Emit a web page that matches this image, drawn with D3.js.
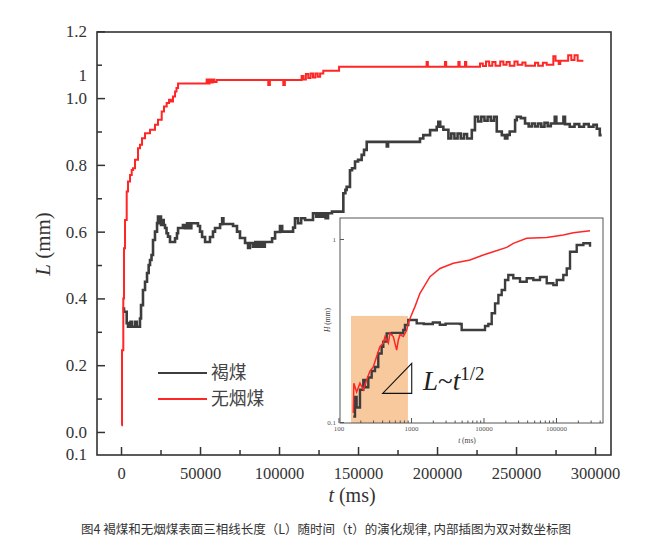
<!DOCTYPE html>
<html><head><meta charset="utf-8">
<script src="https://cdn.jsdelivr.net/npm/d3@7"></script>
<style>body{margin:0;background:#fff;} svg{display:block;}</style>
</head><body><svg id="c" width="645" height="542"></svg>
<script>
// ---------------- DATA ----------------
const seriesNames = ["褐煤", "无烟煤"];
const seriesColors = ["#3d3d3d", "#ff2626"];

// main chart: t (ms), L (mm) — 褐煤 (lignite)
const ligniteMain = [[950,0.37],[1900,0.36],[3600,0.326],[4430,0.315],[6000,0.33],[7000,0.315],[9000,0.33],[10000,0.315],[12000,0.34],[12660,0.38],[13900,0.425],[15200,0.45],[16460,0.476],[17500,0.5],[18350,0.515],[19300,0.53],[20250,0.575],[21500,0.60],[22800,0.626],[23400,0.645],[24000,0.625],[24700,0.645],[25300,0.62],[25900,0.635],[27000,0.62],[27850,0.611],[28800,0.595],[29750,0.585],[31000,0.569],[34200,0.58],[35400,0.595],[36100,0.611],[39200,0.62],[40500,0.61],[41800,0.625],[43000,0.61],[44500,0.625],[48700,0.617],[50000,0.60],[51300,0.584],[53200,0.569],[56300,0.584],[58200,0.60],[59500,0.611],[62700,0.622],[64000,0.64],[64800,0.623],[70900,0.617],[73400,0.60],[75300,0.581],[78500,0.566],[80400,0.551],[81600,0.566],[83500,0.555],[85000,0.569],[86500,0.555],[88000,0.569],[89500,0.555],[91000,0.569],[95600,0.58],[97500,0.599],[100600,0.617],[102000,0.60],[108900,0.612],[110100,0.64],[112000,0.625],[114000,0.64],[116500,0.635],[121500,0.655],[123500,0.645],[125000,0.655],[126500,0.645],[128000,0.655],[129500,0.64],[131000,0.655],[133500,0.66],[140700,0.715],[142000,0.725],[142800,0.734],[144900,0.784],[146200,0.79],[148100,0.81],[150000,0.815],[152300,0.83],[153800,0.845],[155500,0.869],[168200,0.855],[169000,0.869],[189200,0.879],[191300,0.889],[195600,0.904],[199800,0.914],[200800,0.929],[202000,0.914],[204000,0.905],[207200,0.879],[209000,0.894],[211000,0.879],[213000,0.894],[215000,0.879],[217000,0.892],[219000,0.879],[222000,0.904],[224000,0.944],[226000,0.93],[228000,0.944],[230000,0.932],[232000,0.944],[234000,0.932],[236000,0.944],[237800,0.90],[241000,0.889],[243000,0.879],[244500,0.89],[246000,0.90],[249400,0.934],[250500,0.944],[253000,0.94],[255700,0.924],[258000,0.915],[260000,0.924],[262000,0.915],[264000,0.924],[266000,0.914],[268000,0.926],[270000,0.916],[272000,0.924],[274500,0.944],[275500,0.924],[280000,0.944],[281000,0.922],[284000,0.914],[287000,0.922],[290000,0.914],[293000,0.922],[296000,0.914],[299000,0.92],[301100,0.908],[303000,0.889],[304200,0.889]];

// main chart: 无烟煤 (anthracite)
const anthraciteMain = [[300,0.02],[630,0.245],[1450,0.40],[1900,0.55],[2530,0.635],[3600,0.72],[4430,0.75],[5700,0.77],[6770,0.785],[7600,0.79],[8860,0.815],[10760,0.85],[12000,0.86],[13300,0.88],[15200,0.895],[18350,0.905],[21500,0.92],[23400,0.935],[25760,0.96],[27200,0.975],[28900,0.985],[30400,0.995],[31600,0.99],[32900,1.005],[34200,1.02],[35100,1.03],[36100,1.044],[54200,1.056],[55000,1.044],[56000,1.056],[57000,1.047],[58000,1.056],[59000,1.048],[60500,1.054],[93200,1.039],[94200,1.054],[102700,1.039],[103700,1.054],[114300,1.066],[115500,1.056],[117000,1.072],[118500,1.06],[120000,1.074],[121500,1.062],[123000,1.074],[124500,1.064],[126000,1.074],[128000,1.082],[138000,1.094],[193400,1.108],[194200,1.094],[205000,1.108],[205800,1.094],[213500,1.108],[214300,1.094],[217700,1.108],[218500,1.094],[227200,1.104],[229000,1.096],[231000,1.11],[233000,1.097],[235000,1.108],[237000,1.097],[240000,1.11],[242000,1.1],[244000,1.108],[246000,1.097],[249000,1.11],[251000,1.1],[254000,1.107],[256000,1.097],[262000,1.106],[264000,1.097],[267000,1.106],[269400,1.1],[273600,1.125],[275000,1.112],[277000,1.102],[278000,1.112],[283000,1.128],[285000,1.114],[287000,1.128],[289000,1.112],[290500,1.112],[292600,1.112]];

// inset (log-log): t (ms), H (mm)
const ligniteInset = [[160,0.107],[169,0.137],[178,0.12],[198,0.15],[220,0.17],[232,0.155],[258,0.175],[287,0.19],[319,0.2],[354,0.237],[394,0.258],[415,0.275],[462,0.305],[542,0.307],[745,0.305],[783,0.318],[826,0.339],[918,0.361],[1077,0.361],[1199,0.346],[1500,0.343],[2000,0.35],[2500,0.34],[3000,0.345],[4742,0.343],[5000,0.318],[9940,0.318],[10490,0.335],[11660,0.343],[12980,0.393],[14430,0.445],[16040,0.494],[17830,0.526],[19830,0.597],[21990,0.636],[25770,0.61],[31860,0.584],[39420,0.61],[48660,0.597],[60140,0.62],[74470,0.573],[91900,0.56],[102300,0.597],[126000,0.636],[140500,0.69],[156000,0.852],[193000,0.927],[238400,0.947],[294400,0.908]];
const anthraciteInset = [[160,0.112],[163,0.163],[178,0.146],[198,0.163],[220,0.15],[245,0.17],[272,0.19],[302,0.2],[336,0.228],[373,0.258],[415,0.27],[438,0.293],[487,0.27],[513,0.305],[570,0.293],[635,0.247],[668,0.28],[705,0.30],[783,0.293],[873,0.318],[918,0.346],[991,0.376],[1135,0.427],[1330,0.505],[1828,0.622],[2512,0.69],[3836,0.737],[6514,0.768],[9940,0.818],[13650,0.852],[20880,0.90],[25770,0.947],[39420,1.01],[74470,1.02],[126000,1.05],[173300,1.08],[294400,1.11]];

// ticks
const xMajorTicks = [0,50000,100000,150000,200000,250000,300000];
const xMinorTicks = [25000,75000,125000,175000,225000,275000];
const yMajorTicks = [0,0.2,0.4,0.6,0.8,1.0,1.2];
const yMinorTicks = [0.1,0.3,0.5,0.7,0.9,1.1];
const yExtraLabels = [[1.069,"1"],[-0.069,"0.1"]];
const insetXTicks = [100,1000,10000,100000];
const insetYTicks = [0.1,1];
const highlightT = [149,907];     // shaded region (t range)
const highlightH = 0.38;          // shaded region top
const slopeT = [407,1024];        // slope triangle t
const slopeH = [0.1435,0.2093];   // slope triangle H
const caption = "图4 褐煤和无烟煤表面三相线长度（L）随时间（t）的演化规律, 内部插图为双对数坐标图";

// ---------------- DRAW ----------------
const svg = d3.select("#c");
const serif = "'Liberation Serif','Times New Roman',serif";
const cjk = "'Noto Sans CJK SC','Noto Sans',sans-serif";
svg.append("rect").attr("width",645).attr("height",542).attr("fill","#fff");

const x = d3.scaleLinear().domain([-15200,310100]).range([97,611]);
const y = d3.scaleLinear().domain([-0.069,1.198]).range([455,32]);

const line = d3.line().x(d=>x(d[0])).y(d=>y(d[1])).curve(d3.curveStepAfter);
svg.append("path").attr("d",line(ligniteMain)).attr("fill","none")
  .attr("stroke",seriesColors[0]).attr("stroke-width",2.6);
svg.append("path").attr("d",line(anthraciteMain)).attr("fill","none")
  .attr("stroke",seriesColors[1]).attr("stroke-width",2);

// frame
svg.append("rect").attr("x",97).attr("y",32).attr("width",514).attr("height",423)
  .attr("fill","none").attr("stroke","#333").attr("stroke-width",1.6);

function styleAxis(g, fs){
  g.select(".domain").remove();
  g.selectAll("line").attr("stroke","#333").attr("stroke-width",1.5);
  g.selectAll("text").attr("font-family",serif).attr("font-size",fs).attr("fill","#333");
}
const gy = svg.append("g").attr("transform","translate(97,0)")
  .call(d3.axisLeft(y).tickValues(yMajorTicks).tickSize(-8).tickPadding(10).tickFormat(d3.format(".1f")));
styleAxis(gy,17);
const gy2 = svg.append("g").attr("transform","translate(97,0)")
  .call(d3.axisLeft(y).tickValues(yMinorTicks).tickSize(-5).tickFormat(""));
styleAxis(gy2,17);
svg.append("g").selectAll("text").data(yExtraLabels).join("text")
  .attr("x",87).attr("y",d=>y(d[0])).attr("dy","0.32em").attr("text-anchor","end")
  .attr("font-family",serif).attr("font-size",17).attr("fill","#333").text(d=>d[1]);

const gx = svg.append("g").attr("transform","translate(0,455)")
  .call(d3.axisBottom(x).tickValues(xMajorTicks).tickSize(-8).tickPadding(12).tickFormat(d3.format("d")));
styleAxis(gx,16.5);
const gx2 = svg.append("g").attr("transform","translate(0,455)")
  .call(d3.axisBottom(x).tickValues(xMinorTicks).tickSize(-5).tickFormat(""));
styleAxis(gx2,16.5);

// axis titles
const yt = svg.append("text").attr("transform","translate(50,244) rotate(-90)")
  .attr("text-anchor","middle").attr("font-family",serif).attr("font-size",21).attr("fill","#333");
yt.append("tspan").attr("font-style","italic").text("L");
yt.append("tspan").text(" (mm)");
const xt = svg.append("text").attr("x",352).attr("y",502)
  .attr("text-anchor","middle").attr("font-family",serif).attr("font-size",20).attr("fill","#333");
xt.append("tspan").attr("font-style","italic").text("t");
xt.append("tspan").text(" (ms)");

// legend
const leg = svg.append("g");
seriesNames.forEach((n,i)=>{
  const yy = 373 + i*26;
  leg.append("line").attr("x1",158).attr("x2",207).attr("y1",yy).attr("y2",yy)
    .attr("stroke",seriesColors[i]).attr("stroke-width",2.2);
  leg.append("text").attr("x",211).attr("y",yy).attr("dy","0.35em")
    .attr("font-family",cjk).attr("font-size",17.8).attr("fill","#444").text(n);
});

// ---------------- INSET ----------------
const ix = d3.scaleLog().domain([105,444600]).range([340,603]);
const iy = d3.scaleLog().domain([0.0988,1.302]).range([423,218]);
svg.append("rect").attr("x",340).attr("y",218).attr("width",263).attr("height",205).attr("fill","#fff");
svg.append("rect").attr("x",ix(highlightT[0])).attr("y",iy(highlightH))
  .attr("width",ix(highlightT[1])-ix(highlightT[0])).attr("height",423-iy(highlightH))
  .attr("fill","#f7c99d");
const iline = d3.line().x(d=>ix(d[0])).y(d=>iy(d[1]));
svg.append("path").attr("d",iline.curve(d3.curveStepAfter)(ligniteInset)).attr("fill","none")
  .attr("stroke","#3d3d3d").attr("stroke-width",2.4);
svg.append("path").attr("d",d3.line().x(d=>ix(d[0])).y(d=>iy(d[1]))(anthraciteInset)).attr("fill","none")
  .attr("stroke","#ff2626").attr("stroke-width",1.5);
svg.append("rect").attr("x",340).attr("y",218).attr("width",263).attr("height",205)
  .attr("fill","none").attr("stroke","#555").attr("stroke-width",1);

// inset ticks
const minorX = [];
[100,1000,10000,100000].forEach(dec=>{for(let k=2;k<=9;k++){const v=dec*k; if(v<=444600) minorX.push(v);}});
const gix = svg.append("g").attr("transform","translate(0,423)")
  .call(d3.axisBottom(ix).tickValues(insetXTicks).tickSize(-5).tickPadding(3).tickFormat(d3.format("d")));
gix.select(".domain").remove();
gix.selectAll("line").attr("stroke","#555");
gix.selectAll("text").attr("font-family",serif).attr("font-size",7).attr("fill","#555");
const gix2 = svg.append("g").attr("transform","translate(0,423)")
  .call(d3.axisBottom(ix).tickValues(minorX).tickSize(-2.5).tickFormat(""));
gix2.select(".domain").remove();
gix2.selectAll("line").attr("stroke","#555");
const giy = svg.append("g").attr("transform","translate(340,0)")
  .call(d3.axisLeft(iy).tickValues(insetYTicks).tickSize(-4).tickPadding(4).tickFormat(d=>d>=1?"1":"0.1"));
giy.select(".domain").remove();
giy.selectAll("line").attr("stroke","#555");
giy.selectAll("text").attr("font-family",serif).attr("font-size",7).attr("fill","#555");

const ixt = svg.append("text").attr("x",467).attr("y",443).attr("text-anchor","middle")
  .attr("font-family",serif).attr("font-size",7.5).attr("fill","#444");
ixt.append("tspan").attr("font-style","italic").text("t");
ixt.append("tspan").text(" (ms)");
const iyt = svg.append("text").attr("transform","translate(330,320) rotate(-90)").attr("text-anchor","middle")
  .attr("font-family",serif).attr("font-size",7.5).attr("fill","#444");
iyt.append("tspan").attr("font-style","italic").text("H");
iyt.append("tspan").text(" (mm)");

// slope triangle
const tri = [[slopeT[0],slopeH[0]],[slopeT[1],slopeH[0]],[slopeT[1],slopeH[1]]];
svg.append("path").attr("d",d3.line().x(d=>ix(d[0])).y(d=>iy(d[1]))(tri)+"Z")
  .attr("fill","none").attr("stroke","#111").attr("stroke-width",1.1);
const ann = svg.append("text").attr("x",423).attr("y",390)
  .attr("font-family",serif).attr("font-size",27).attr("fill","#222");
ann.append("tspan").attr("font-style","italic").text("L");
ann.append("tspan").text("~");
ann.append("tspan").attr("font-style","italic").text("t");
ann.append("tspan").attr("font-size",19).attr("dy",-10).text("1/2");

// caption
svg.append("text").attr("x",326).attr("y",530).attr("dy","0.35em").attr("text-anchor","middle")
  .attr("font-family",cjk).attr("font-size",12.5).attr("fill","#333").text(caption);
</script>
</body></html>
